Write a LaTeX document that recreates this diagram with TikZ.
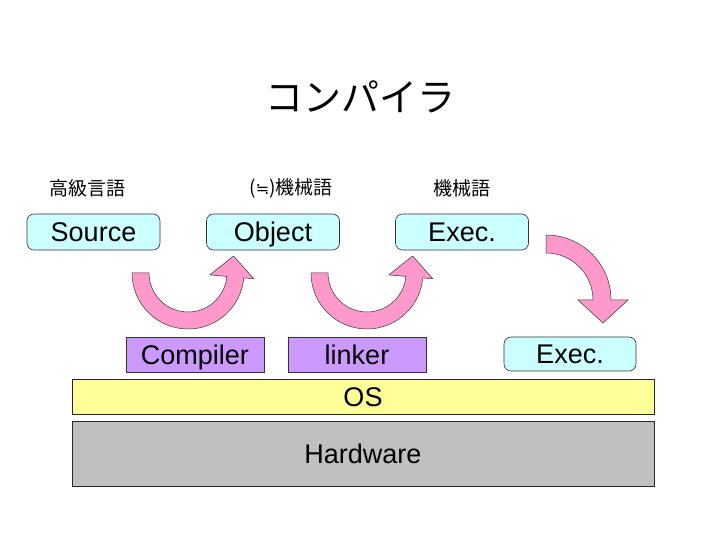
\documentclass[tikz,border=0pt]{standalone}
\usepackage{fontspec}
\setmainfont{Liberation Sans}
\newfontfamily\jpfont{Noto Sans CJK JP}
\newfontfamily\symfont{DejaVu Sans}
\definecolor{boxcyan}{RGB}{204,255,255}
\definecolor{boxpurple}{RGB}{204,153,255}
\definecolor{osyellow}{RGB}{255,255,153}
\definecolor{hwgray}{RGB}{192,192,192}
\definecolor{arrowpink}{RGB}{255,153,204}
\tikzset{
  boxtext/.style={font=\fontsize{27}{30}\selectfont, text height=22.5pt, text depth=2.5pt},
  filebox/.style={boxtext, draw=black!80, line width=0.6pt, fill=boxcyan, rounded corners=7pt, minimum width=133pt, minimum height=36pt, inner sep=0pt},
  toolbox/.style={boxtext, draw=black!80, line width=0.6pt, fill=boxpurple, minimum width=138pt, minimum height=35pt, inner sep=0pt},
  layerbox/.style={boxtext, draw=black!85, line width=0.6pt, minimum width=582pt, inner sep=0pt},
  jplabel/.style={font=\jpfont\fontsize{19}{22}\selectfont, inner sep=0pt},
  blockarrow/.style={draw=black!80, line width=0.5pt, fill=arrowpink, line join=miter}
}
\begin{document}
\begin{tikzpicture}[x=1pt,y=1pt]
\useasboundingbox (0,0) rectangle (720,540);
\node[font=\jpfont\fontsize{38}{40}\selectfont, inner sep=0pt] (title) at (360,443) {コンパイラ};
\node[jplabel] (l1) at (87,352) {高級言語};
\node[jplabel] (l2) at (291,352) {({\symfont\fontsize{16}{20}\selectfont ≒})機械語};
\node[jplabel] (l3) at (462,352) {機械語};
\node[filebox] (src) at (93.5,308) {Source};
\node[filebox] (obj) at (273,308) {Object};
\node[filebox] (exe) at (462,308) {Exec.};
\node[filebox, minimum width=132pt, minimum height=34pt] (exe2) at (570,186) {Exec.};
\node[toolbox] (comp) at (195,185.5) {Compiler};
\node[toolbox] (link) at (357,185.5) {linker};
\node[layerbox, fill=osyellow, minimum height=35pt] (os) at (363,143.5) {OS};
\node[layerbox, fill=hwgray, minimum height=65pt] (hw) at (363,86.5) {Hardware};
% compiler arrow
\begin{scope}[shift={(188,267)}]
\path[blockarrow] (180:56) arc[start angle=180, end angle=355, radius=56] -- (355:66) -- (45.6,17) -- (355:22) -- (355:39) arc[start angle=355, end angle=180, radius=39] -- cycle;
\end{scope}
% linker arrow
\begin{scope}[shift={(367,267)}]
\path[blockarrow] (180:56) arc[start angle=180, end angle=355, radius=56] -- (355:66) -- (45.6,17) -- (355:22) -- (355:39) arc[start angle=355, end angle=180, radius=39] -- cycle;
\end{scope}
% exec arrow
\begin{scope}[shift={(546,240)}]
\path[blockarrow] (90:65) arc[start angle=90, end angle=0, radius=65] -- (0:82) -- (57,-23) -- (0:32) -- (0:47) arc[start angle=0, end angle=90, radius=47] -- cycle;
\end{scope}
\end{tikzpicture}
\end{document}
